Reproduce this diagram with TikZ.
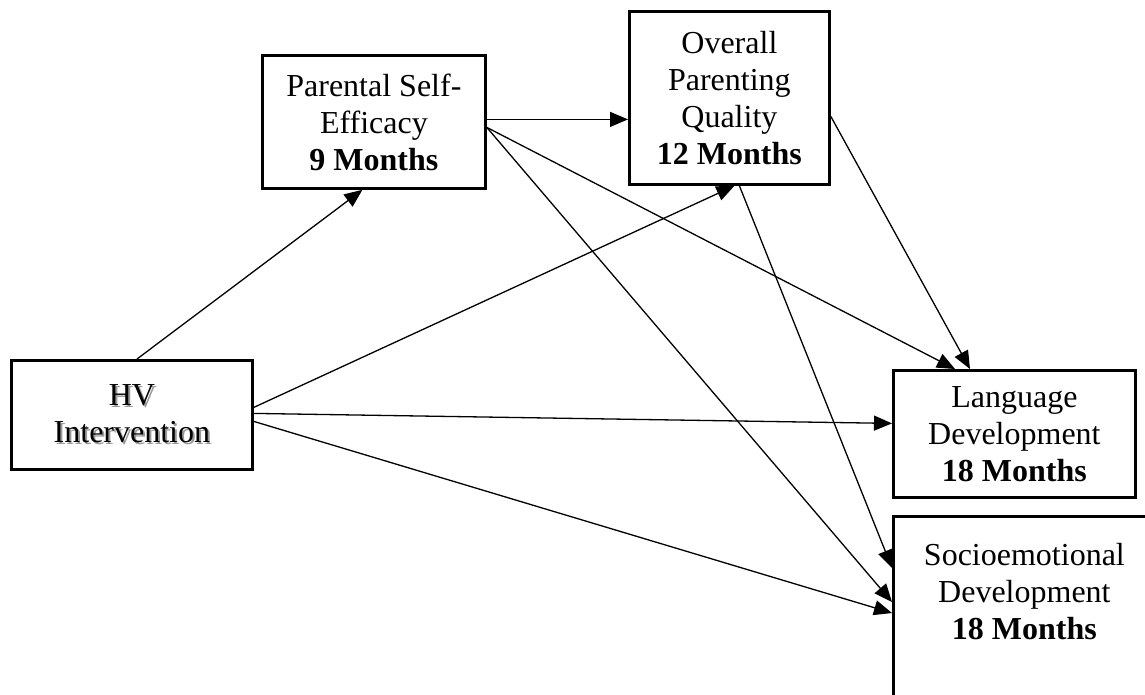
\documentclass[tikz,border=0pt]{standalone}
\usepackage{fontspec}
\setmainfont{Liberation Serif}
\usepackage{xcolor}
\usepackage{tikz}
\usetikzlibrary{arrows.meta}
\definecolor{ink}{HTML}{000000}
\definecolor{shade}{HTML}{9A9A9A}
\newcommand{\shadowline}[1]{\makebox[0pt][l]{\hspace{2pt}\raisebox{-2pt}{\textcolor{shade}{#1}}}#1}
\tikzset{
  modelbox/.style={draw=ink,line width=2.8pt,fill=white,align=center,anchor=north west,
    inner sep=0pt,font=\fontsize{32}{37}\selectfont},
  modelarrow/.style={-{Triangle[length=18pt,width=15pt]},line width=1.3pt,draw=ink}
}

\begin{document}
\begin{tikzpicture}[x=1pt,y=-1pt]
\useasboundingbox (0,0) rectangle (1145,694);
\node[modelbox,minimum width=241pt,minimum height=109pt] (hv) at (10,359) {\shadowline{HV}\\\shadowline{Intervention}};
\node[modelbox,minimum width=223pt,minimum height=133pt] (selfeff) at (261,54) {Parental Self-\\Efficacy\\\textbf{9 Months}};
\node[modelbox,minimum width=200pt,minimum height=173pt] (quality) at (628,10) {Overall\\Parenting\\Quality\\\textbf{12 Months}};
\node[modelbox,minimum width=242pt,minimum height=127pt] (language) at (892,369) {Language\\Development\\\textbf{18 Months}};
\node[modelbox,minimum width=262pt,minimum height=250pt] (socio) at (892,515) {Socioemotional\\Development\\\textbf{18 Months}\rule[-100pt]{0pt}{0pt}};
% paths from the intervention
\draw[modelarrow] ([xshift=127pt]hv.north west) -- ([xshift=-11.5pt]selfeff.south);
\draw[modelarrow] ([yshift=7.5pt]hv.east) -- ([xshift=5pt]quality.south);
\draw[modelarrow] ([yshift=1.5pt]hv.east) -- ([yshift=10.5pt]language.west);
\draw[modelarrow] ([yshift=-6.5pt]hv.east) -- ([yshift=-98pt]socio.north west);
% paths from self-efficacy
\draw[modelarrow] ([yshift=2.5pt]selfeff.east) -- ([yshift=-21.5pt]quality.west);
\draw[modelarrow] ([yshift=-5.5pt]selfeff.east) -- ([xshift=63pt]language.north west);
\draw[modelarrow] ([yshift=-5.5pt]selfeff.east) -- ([yshift=-87pt]socio.north west);
% paths from parenting quality
\draw[modelarrow] ([yshift=-18.5pt]quality.east) -- ([xshift=78pt]language.north west);
\draw[modelarrow] ([xshift=10pt]quality.south) -- ([yshift=-53pt]socio.north west);
\end{tikzpicture}
\end{document}
